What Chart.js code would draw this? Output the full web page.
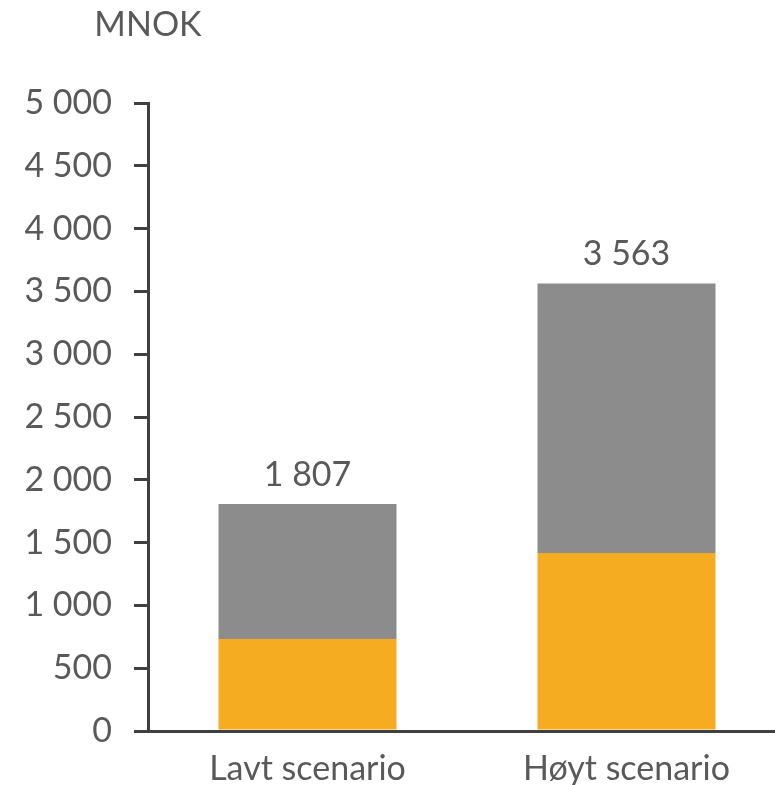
<!DOCTYPE html>
<html>
<head>
<meta charset="utf-8">
<script src="https://cdn.jsdelivr.net/npm/chart.js@4"></script>
<style>
  html, body { margin: 0; padding: 0; background: #fff; overflow: hidden; }
  canvas { display: block; }
</style>
</head>
<body>
<canvas id="scenario_chart" width="790" height="785"></canvas>
<script>
// data
const categories = ["Lavt scenario", "Høyt scenario"];
const orangePart = [733, 1417];
const grayPart = [1074, 2146];
const unitLabel = "MNOK";

const textColor = "#595959";
const axisColor = "#404040";
const fontFamily = "Lato, 'Open Sans', sans-serif";
const fontSize = 34;

// tall med mellomrom som tusenskille
const fmt = (v) => String(Math.round(v)).replace(/\B(?=(\d{3})+(?!\d))/g, " ");

// totaler over stablene + enhet øverst
const extras = {
    id: "extras",
    afterDatasetsDraw(chart) {
        const { ctx, chartArea } = chart;
        ctx.save();
        ctx.fillStyle = textColor;
        ctx.font = fontSize + "px " + fontFamily;
        ctx.textAlign = "center";
        ctx.textBaseline = "bottom";
        const top = chart.getDatasetMeta(chart.data.datasets.length - 1);
        top.data.forEach((bar, i) => {
            const total = orangePart[i] + grayPart[i];
            ctx.fillText(fmt(total), bar.x, bar.y - 12);
        });
        ctx.textBaseline = "middle";
        ctx.fillText(unitLabel, chartArea.left, 25);
        ctx.restore();
    },
};

const ctx = document.getElementById("scenario_chart").getContext("2d");
new Chart(ctx, {
    type: "bar",
    data: {
        labels: categories,
        datasets: [
            { data: orangePart, backgroundColor: "#F5AC20", barPercentage: 0.558, categoryPercentage: 1 },
            { data: grayPart, backgroundColor: "#8C8C8C", barPercentage: 0.558, categoryPercentage: 1 },
        ],
    },
    options: {
        responsive: false,
        animation: false,
        layout: { padding: { top: 103, right: 4, bottom: 0, left: 0 } },
        plugins: { legend: { display: false }, tooltip: { enabled: false } },
        scales: {
            x: {
                stacked: true,
                grid: { display: false },
                border: { display: true, color: axisColor, width: 3 },
                ticks: { color: textColor, font: { family: fontFamily, size: fontSize }, padding: 10 },
                afterFit: (s) => { s.height = 54; },
            },
            y: {
                stacked: true,
                min: 0,
                max: 5000,
                ticks: {
                    stepSize: 500,
                    color: textColor,
                    font: { family: fontFamily, size: fontSize },
                    padding: 22,
                    callback: (v) => fmt(v),
                },
                grid: { drawOnChartArea: false, drawTicks: true, tickLength: 14, color: axisColor, lineWidth: 3 },
                border: { display: true, color: axisColor, width: 3 },
                afterFit: (s) => { s.width = 148; },
            },
        },
    },
    plugins: [extras],
});
</script>
</body>
</html>
